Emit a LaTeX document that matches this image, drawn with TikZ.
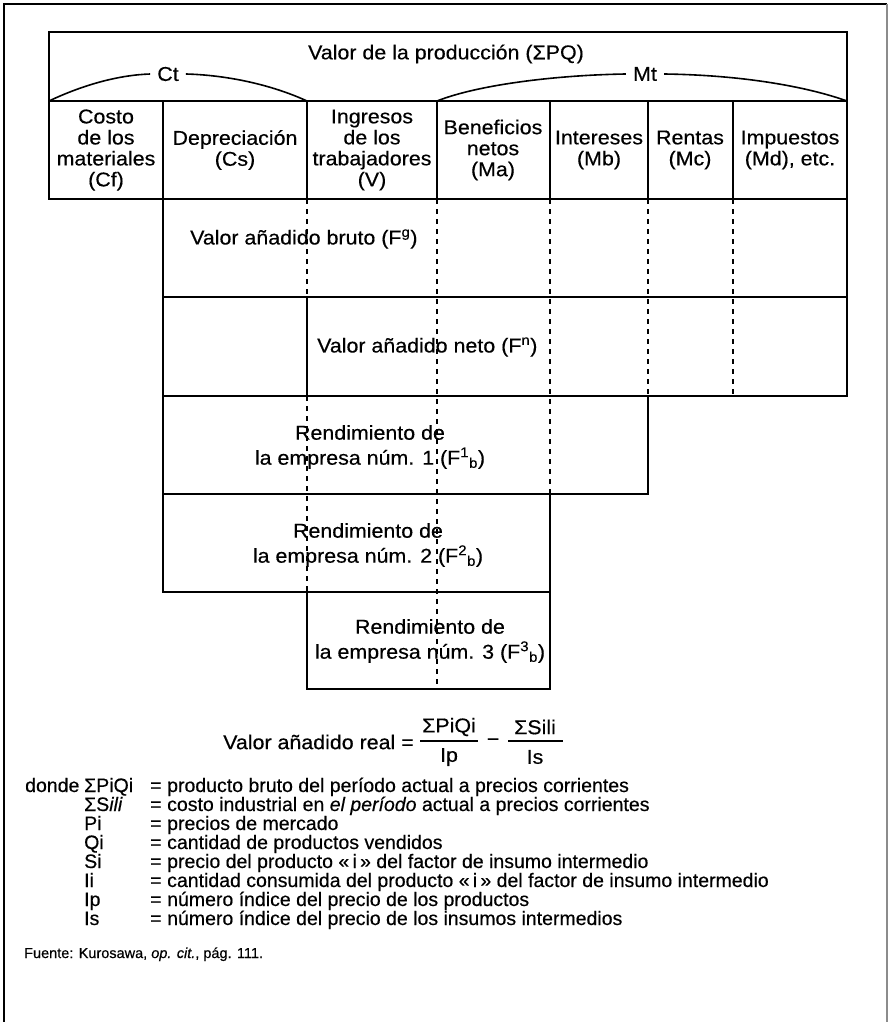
\documentclass[tikz,border=0pt]{standalone}
\usepackage{fontspec}
\setmainfont{Liberation Sans}[FakeStretch=1.07, FakeBold=0.4]
\newfontfamily\legendfont{Liberation Sans}[FakeBold=0.4]
\tikzset{
  rule/.style={line width=2pt, line cap=rect},
  arch/.style={line width=1.6pt},
  frameline/.style={line width=1.2pt},
  divider/.style={line width=1.5pt, dash pattern=on 5pt off 5pt},
  lbl/.style={font=\fontsize{20}{21}\selectfont, inner sep=0pt, align=center},
  twoline/.style={font=\fontsize{20}{25}\selectfont, inner sep=0pt, align=center},
  legend/.style={font=\legendfont\fontsize{19.5}{21}\selectfont, inner sep=0pt, anchor=base west},
  fracbar/.style={line width=1.2pt},
}
\begin{document}
\begin{tikzpicture}[x=1pt,y=-1pt]
\useasboundingbox (0,0) rectangle (890,1022);
\fill[white] (0,0) rectangle (890,1022);

% outer frame, open at the foot
\draw[frameline] (4,1022) -- (4,4) -- (887,4);
\draw[frameline, black!45] (887,4) -- (887,1022);

% header block
\draw[rule] (49,32) rectangle (847,199);
\draw[rule] (49,101) -- (847,101);
\foreach \x in {163,307,437,550,648,733}
  \draw[rule] (\x,101) -- (\x,199);

% value-added blocks
\draw[rule] (163,199) -- (163,592);
\draw[rule] (163,297) -- (847,297);
\draw[rule] (847,199) -- (847,396);
\draw[rule] (307,297) -- (307,396);
\draw[rule] (163,396) -- (847,396);
\draw[rule] (648,396) -- (648,494);
\draw[rule] (163,494) -- (648,494);
\draw[rule] (550,494) -- (550,689);
\draw[rule] (163,592) -- (550,592);
\draw[rule] (307,592) -- (307,689) -- (550,689);

% dashed continuations of the column borders
\draw[divider] (307,199) -- (307,297);
\draw[divider] (307,396) -- (307,592);
\draw[divider] (437,199) -- (437,689);
\draw[divider] (550,199) -- (550,494);
\draw[divider] (648,199) -- (648,396);
\draw[divider] (733,199) -- (733,396);

% title and the two brackets
\node[lbl] (title) at (446,54) {Valor de la producción (ΣPQ)};
\node[lbl, inner xsep=7pt] (ct) at (168,74) {Ct};
\node[lbl, inner xsep=7pt] (mt) at (645,74) {Mt};
\draw[arch] (49,101) .. controls (85,84) and (120,75) .. (ct.west);
\draw[arch] (ct.east) .. controls (225,75) and (270,84) .. (307,101);
\draw[arch] (437,101) .. controls (480,84) and (560,75) .. (mt.west);
\draw[arch] (mt.east) .. controls (740,75) and (805,86) .. (847,101);

% column headings
\node[lbl] (cf) at (106,150) {Costo\\de los\\materiales\\(Cf)};
\node[lbl] (cs) at (235,150) {Depreciación\\(Cs)};
\node[lbl] (v)  at (372,150) {Ingresos\\de los\\trabajadores\\(V)};
\node[lbl] (ma) at (493,150) {Beneficios\\netos\\(Ma)};
\node[lbl] (mb) at (599,150) {Intereses\\(Mb)};
\node[lbl] (mc) at (690,150) {Rentas\\(Mc)};
\node[lbl] (md) at (790,150) {Impuestos\\(Md), etc.};

% block labels
\node[lbl, anchor=west] (gross) at (190,239) {Valor añadido bruto (F\textsuperscript{g})};
\node[lbl, anchor=west] (net) at (317,347) {Valor añadido neto (F\textsuperscript{n})};
\node[twoline] (firm1) at (370,447) {Rendimiento de\\la empresa núm. 1 (F\textsuperscript{1}\textsubscript{b})};
\node[twoline] (firm2) at (368,545) {Rendimiento de\\la empresa núm. 2 (F\textsuperscript{2}\textsubscript{b})};
\node[twoline] (firm3) at (430,641) {Rendimiento de\\la empresa núm. 3 (F\textsuperscript{3}\textsubscript{b})};

% real value added
\node[lbl, anchor=east] (realv) at (414,742) {Valor añadido real =};
\node[lbl] (n1) at (449,727) {ΣPiQi};
\node[lbl] (d1) at (449,757) {Ip};
\draw[fracbar] (420,741) -- (478,741);
\node[lbl] (minus) at (493,742) {−};
\node[lbl] (n2) at (535,727) {ΣSili};
\node[lbl] (d2) at (535,757) {Is};
\draw[fracbar] (508,741) -- (563,741);

% legend
\node[legend] (donde) at (25,792) {donde};
\foreach \y/\s/\d [count=\i] in {
  792/ΣPiQi/producto bruto del período actual a precios corrientes,
  811/ΣS\textit{ili}/costo industrial en \textit{el período} actual a precios corrientes,
  830/Pi/precios de mercado,
  849/Qi/cantidad de productos vendidos,
  868/Si/precio del producto «\,i\,» del factor de insumo intermedio,
  887/Ii/cantidad consumida del producto «\,i\,» del factor de insumo intermedio,
  906/Ip/número índice del precio de los productos,
  925/Is/número índice del precio de los insumos intermedios} {
  \node[legend] (sym\i) at (84,\y) {\s};
  \node[legend] (eq\i) at (150,\y) {=};
  \node[legend] (def\i) at (167,\y) {\d};
}

% source line
\node[legend, font=\legendfont\fontsize{14.5}{16}\selectfont] (src) at (24,958) {Fuente: Kurosawa, \textit{op. cit.}, pág. 111.};
\end{tikzpicture}
\end{document}
